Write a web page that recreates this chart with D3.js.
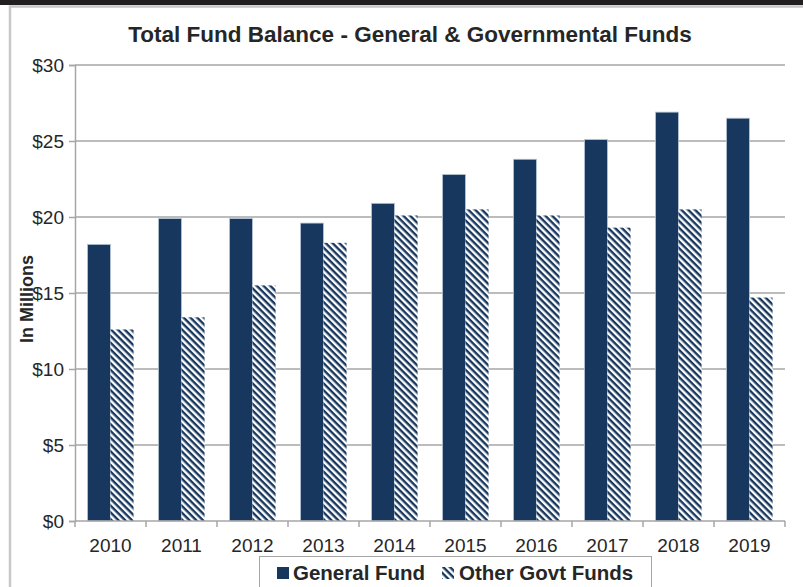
<!DOCTYPE html>
<html>
<head>
<meta charset="utf-8">
<script src="https://cdn.jsdelivr.net/npm/d3@7"></script>
<style>
  html, body { margin: 0; padding: 0; background: #fff; }
  svg { display: block; font-family: Arial, "Liberation Sans", sans-serif; }
</style>
</head>
<body>
<svg id="chart" width="803" height="587"></svg>
<script>
// Fund balances by fiscal year, in millions of dollars
const years = ["2010", "2011", "2012", "2013", "2014", "2015", "2016", "2017", "2018", "2019"];
const generalFund = [18.2, 19.9, 19.9, 19.6, 20.9, 22.8, 23.8, 25.1, 26.9, 26.5];
const otherGovtFunds = [12.6, 13.4, 15.5, 18.3, 20.1, 20.5, 20.1, 19.3, 20.5, 14.7];
const yTicks = [0, 5, 10, 15, 20, 25, 30];
const seriesNames = ["General Fund", "Other Govt Funds"];

const navy = "#17375e";
const gridColor = "#a6a6a6";
const textColor = "#262626";
const fontFamily = "Arial, 'Liberation Sans', sans-serif";

const svg = d3.select("#chart");

// Page chrome: dark band across the top and a light frame around the chart
svg.append("rect").attr("x", 0).attr("y", 0).attr("width", 803).attr("height", 5).attr("fill", "#231f20");
svg.append("path")
  .attr("d", "M10,587 V6.5 H803")
  .attr("fill", "none").attr("stroke", "#c8c8c8").attr("stroke-width", 2.5);

// Diagonal hatch for the second series
const defs = svg.append("defs");
const hw = 4.8;
const pat = defs.append("pattern")
  .attr("id", "hatch")
  .attr("patternUnits", "userSpaceOnUse")
  .attr("width", hw).attr("height", hw)
  .attr("patternTransform", "rotate(45)");
pat.append("rect").attr("width", hw).attr("height", hw).attr("fill", "#fff");
pat.append("rect").attr("x", 0).attr("y", 0).attr("width", hw).attr("height", hw / 2).attr("fill", navy);

const margin = { left: 75, right: 785, top: 65, bottom: 521 };

const x0 = d3.scaleBand().domain(years).range([margin.left, margin.right]).paddingInner(0).paddingOuter(0);
const x1 = d3.scaleBand().domain(seriesNames).range([0, x0.bandwidth()]).paddingInner(0).paddingOuter(0.54);
const y = d3.scaleLinear().domain([0, 30]).range([margin.bottom, margin.top]);

// Horizontal gridlines
svg.append("g").selectAll("line").data(yTicks.filter(d => d > 0)).join("line")
  .attr("x1", margin.left).attr("x2", margin.right)
  .attr("y1", d => y(d)).attr("y2", d => y(d))
  .attr("stroke", gridColor).attr("stroke-width", 1.5);

// Y axis
const yAxis = svg.append("g")
  .attr("transform", `translate(${margin.left},0)`)
  .call(d3.axisLeft(y).tickValues(yTicks).tickSize(6).tickPadding(5).tickFormat(d => "$" + d));
yAxis.select(".domain").attr("stroke", gridColor).attr("stroke-width", 1.5);
yAxis.selectAll(".tick line").attr("stroke", gridColor).attr("stroke-width", 1.5);
yAxis.selectAll("text").attr("font-size", 19).attr("fill", textColor)
  .attr("font-family", fontFamily);

// Bars
const groups = svg.append("g").selectAll("g").data(years).join("g")
  .attr("transform", d => `translate(${x0(d)},0)`);

groups.append("rect")
  .attr("x", x1("General Fund"))
  .attr("width", x1.bandwidth())
  .attr("y", (d, i) => y(generalFund[i]))
  .attr("height", (d, i) => y(0) - y(generalFund[i]))
  .attr("fill", navy)
  .attr("stroke", "#b9c7d8").attr("stroke-width", 0.8);

groups.append("rect")
  .attr("x", x1("Other Govt Funds"))
  .attr("width", x1.bandwidth())
  .attr("y", (d, i) => y(otherGovtFunds[i]))
  .attr("height", (d, i) => y(0) - y(otherGovtFunds[i]))
  .attr("fill", "url(#hatch)");

// X axis with ticks at category boundaries
const xAxisG = svg.append("g").attr("transform", `translate(0,${margin.bottom})`);
xAxisG.append("line")
  .attr("x1", margin.left).attr("x2", margin.right)
  .attr("stroke", gridColor).attr("stroke-width", 1.5);
const boundaries = years.map(d => x0(d)).concat([margin.right]);
xAxisG.selectAll("line.tk").data(boundaries).join("line").attr("class", "tk")
  .attr("x1", d => d).attr("x2", d => d).attr("y1", 0).attr("y2", 6)
  .attr("stroke", gridColor).attr("stroke-width", 1.5);
xAxisG.selectAll("text").data(years).join("text")
  .attr("x", d => x0(d) + x0.bandwidth() / 2)
  .attr("y", 31)
  .attr("text-anchor", "middle")
  .attr("font-size", 19).attr("fill", textColor)
  .text(d => d);

// Title
svg.append("text")
  .attr("x", 410).attr("y", 42)
  .attr("text-anchor", "middle")
  .attr("font-size", 22.5).attr("font-weight", "bold").attr("fill", textColor)
  .text("Total Fund Balance - General & Governmental Funds");

// Y axis title
svg.append("text")
  .attr("transform", "translate(33,299) rotate(-90)")
  .attr("text-anchor", "middle")
  .attr("font-size", 18).attr("font-weight", "bold").attr("fill", textColor)
  .text("In Millions");

// Legend
const legend = svg.append("g");
legend.append("rect")
  .attr("x", 259.5).attr("y", 556.5).attr("width", 392).attr("height", 40)
  .attr("fill", "#fff").attr("stroke", "#a6a6a6").attr("stroke-width", 1);
legend.append("rect").attr("x", 277).attr("y", 567).attr("width", 12).attr("height", 12).attr("fill", navy);
legend.append("text").attr("x", 293).attr("y", 580)
  .attr("font-size", 20.5).attr("font-weight", "bold").attr("fill", textColor).text(seriesNames[0]);
legend.append("rect").attr("x", 442).attr("y", 567).attr("width", 12).attr("height", 12).attr("fill", "url(#hatch)");
legend.append("text").attr("x", 459).attr("y", 580)
  .attr("font-size", 20.5).attr("font-weight", "bold").attr("fill", textColor).text(seriesNames[1]);
</script>
</body>
</html>
